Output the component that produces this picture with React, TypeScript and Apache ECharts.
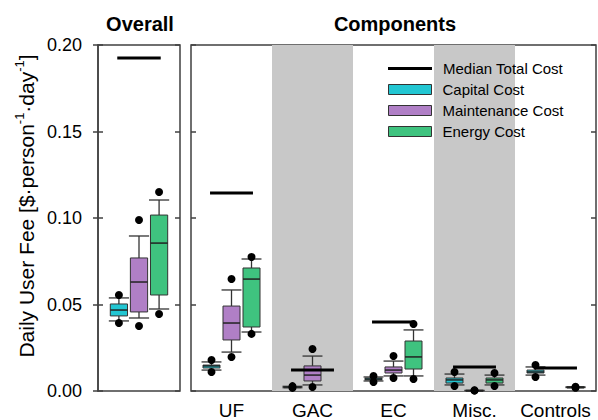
import React, { useEffect, useRef } from "react";
import * as echarts from "echarts";

const FONT = "'Liberation Sans', Arial, Helvetica, sans-serif";

// Categories
const overallCategories = ["Overall"];
const componentCategories = ["UF", "GAC", "EC", "Misc.", "Controls"];
const yTicks = [0, 0.05, 0.1, 0.15, 0.2];

// Each stat: [low dot, low whisker, Q1, median, Q3, high whisker, high dot]
const overallCapital = [[0.0393, 0.0405, 0.0434, 0.0468, 0.0503, 0.0538, 0.0555]];
const overallMaintenance = [[0.0376, 0.0422, 0.0457, 0.063, 0.0769, 0.0896, 0.0988]];
const overallEnergy = [[0.0445, 0.0474, 0.0555, 0.0855, 0.1017, 0.1104, 0.115]];
const overallMedianTotal = [0.1925];

const componentCapital = [
  [0.011, 0.0121, 0.0133, 0.0145, 0.015, 0.0168, 0.0179],
  [0.0018, 0.0019, 0.0021, 0.0023, 0.0025, 0.0027, 0.0028],
  [0.0052, 0.0058, 0.0064, 0.0069, 0.0075, 0.0081, 0.0087],
  [0.0029, 0.0035, 0.0046, 0.0064, 0.0075, 0.0098, 0.011],
  [0.0081, 0.0092, 0.0104, 0.011, 0.0121, 0.0139, 0.015],
];
const componentMaintenance = [
  [0.0197, 0.0225, 0.0295, 0.0393, 0.0491, 0.0584, 0.0647],
  [0.0023, 0.0035, 0.0058, 0.0092, 0.0145, 0.0202, 0.0243],
  [0.0075, 0.0087, 0.0104, 0.0121, 0.0139, 0.0173, 0.0202],
  [0.0002, 0.0002, 0.0003, 0.0003, 0.0003, 0.0004, 0.0004],
  null,
];
const componentEnergy = [
  [0.033, 0.0341, 0.037, 0.0647, 0.0711, 0.0763, 0.0775],
  null,
  [0.0069, 0.0087, 0.0127, 0.0197, 0.0289, 0.0353, 0.0387],
  [0.0029, 0.0035, 0.0046, 0.0064, 0.0075, 0.0092, 0.0104],
  [0.0019, 0.002, 0.0021, 0.0022, 0.0023, 0.0024, 0.0025],
];
const componentMedianTotal = [0.1145, 0.0121, 0.0399, 0.0139, 0.0133];

const COLORS = {
  capital: "#22c6d2",
  maintenance: "#b07fc6",
  energy: "#3fc37f",
  band: "#c8c8c8",
  edge: "#333333",
  frame: "#404040",
};

function toData(stats: (number[] | null)[]) {
  const out: number[][] = [];
  stats.forEach((s, i) => {
    if (s) out.push([i, ...s]);
  });
  return out;
}

function boxRenderer(offsetFrac: number, fill: string) {
  return (params: any, api: any) => {
    const cat = api.value(0);
    const v = [1, 2, 3, 4, 5, 6, 7].map((i) => api.value(i));
    const band = api.size([1, 0])[0];
    const cx = api.coord([cat, 0])[0] + offsetFrac * band;
    const y = (val: number) => api.coord([cat, val])[1];
    const half = band * 0.105;
    const capHalf = band * 0.123;
    const line = { stroke: COLORS.edge, lineWidth: 1.3 };
    const children: any[] = [
      { type: "line", shape: { x1: cx, y1: y(v[1]), x2: cx, y2: y(v[2]) }, style: line },
      { type: "line", shape: { x1: cx, y1: y(v[4]), x2: cx, y2: y(v[5]) }, style: line },
      { type: "line", shape: { x1: cx - capHalf, y1: y(v[1]), x2: cx + capHalf, y2: y(v[1]) }, style: line },
      { type: "line", shape: { x1: cx - capHalf, y1: y(v[5]), x2: cx + capHalf, y2: y(v[5]) }, style: line },
      {
        type: "rect",
        shape: { x: cx - half, y: y(v[4]), width: half * 2, height: Math.max(y(v[2]) - y(v[4]), 1) },
        style: { fill, stroke: COLORS.edge, lineWidth: 1 },
      },
      { type: "line", shape: { x1: cx - half, y1: y(v[3]), x2: cx + half, y2: y(v[3]) }, style: { stroke: "#222", lineWidth: 1.5 } },
      { type: "circle", shape: { cx, cy: y(v[0]), r: 4 }, style: { fill: "#000" } },
      { type: "circle", shape: { cx, cy: y(v[6]), r: 4 }, style: { fill: "#000" } },
    ];
    return { type: "group", children };
  };
}

function medianRenderer(params: any, api: any) {
  const cat = api.value(0);
  const band = api.size([1, 0])[0];
  const c = api.coord([cat, api.value(1)]);
  return {
    type: "line",
    shape: { x1: c[0] - band * 0.265, y1: c[1], x2: c[0] + band * 0.265, y2: c[1] },
    style: { stroke: "#000", lineWidth: 3 },
  };
}

function boxSeries(name: string, stats: (number[] | null)[], offset: number, color: string, gi: number) {
  return {
    type: "custom",
    name,
    xAxisIndex: gi === 0 ? 0 : 1,
    yAxisIndex: gi === 0 ? 0 : 3,
    data: toData(stats),
    encode: { x: 0, y: [1, 2, 3, 4, 5, 6, 7] },
    itemStyle: { color, borderColor: COLORS.edge, borderWidth: 1 },
    renderItem: boxRenderer(offset, color),
    z: 3,
    silent: true,
  };
}

function medianSeries(values: number[], gi: number) {
  return {
    type: "custom",
    name: "Median Total Cost",
    xAxisIndex: gi === 0 ? 0 : 1,
    yAxisIndex: gi === 0 ? 0 : 3,
    data: values.map((v, i) => [i, v]),
    encode: { x: 0, y: 1 },
    itemStyle: { color: "#000" },
    renderItem: medianRenderer,
    z: 4,
    silent: true,
  };
}

function tickAxis(gridIndex: number, position: string) {
  return {
    type: "value",
    gridIndex,
    position,
    min: yTicks[0],
    max: yTicks[yTicks.length - 1],
    interval: 0.05,
    axisLine: { show: false },
    axisTick: { show: true, inside: true, length: 5, lineStyle: { color: COLORS.frame, width: 1.5 } },
    axisLabel: { show: false },
    splitLine: { show: false },
  };
}

export default function App() {
  const ref = useRef<HTMLDivElement>(null);
  useEffect(() => {
    if (!ref.current) return;
    const chart = echarts.init(ref.current, undefined, { renderer: "svg" });
    const option: any = {
      animation: false,
      backgroundColor: "#fff",
      textStyle: { fontFamily: FONT },
      title: [
        {
          text: "Overall",
          left: 140,
          top: 14,
          textAlign: "center",
          padding: 0,
          textStyle: { fontSize: 20, fontWeight: "bold", color: "#000", fontFamily: FONT },
        },
        {
          text: "Components",
          left: 395,
          top: 14,
          textAlign: "center",
          padding: 0,
          textStyle: { fontSize: 20, fontWeight: "bold", color: "#000", fontFamily: FONT },
        },
      ],
      grid: [
        { left: 98, top: 45, width: 82, height: 346, show: true, borderColor: COLORS.frame, borderWidth: 1.5, backgroundColor: "transparent" },
        { left: 191, top: 45, width: 405, height: 346, show: true, borderColor: COLORS.frame, borderWidth: 1.5, backgroundColor: "transparent" },
      ],
      xAxis: [
        {
          type: "category",
          gridIndex: 0,
          data: overallCategories,
          axisLine: { show: false },
          axisTick: { show: false },
          axisLabel: { show: false },
        },
        {
          type: "category",
          gridIndex: 1,
          data: componentCategories,
          axisLine: { show: false },
          axisTick: { show: false },
          axisLabel: { interval: 0, fontSize: 19, color: "#000", margin: 10, fontFamily: FONT },
          splitArea: { show: true, interval: 0, areaStyle: { color: ["rgba(0,0,0,0)", COLORS.band] } },
        },
      ],
      yAxis: [
        {
          type: "value",
          gridIndex: 0,
          position: "left",
          min: yTicks[0],
          max: yTicks[yTicks.length - 1],
          interval: 0.05,
          axisLine: { show: true, lineStyle: { color: COLORS.frame, width: 1.5 } },
          axisTick: { show: true, length: 5, lineStyle: { color: COLORS.frame, width: 1.5 } },
          axisLabel: { fontSize: 18, color: "#000", margin: 16, fontFamily: FONT, formatter: (v: number) => v.toFixed(2) },
          splitLine: { show: false },
        },
        tickAxis(0, "left"),
        tickAxis(0, "right"),
        tickAxis(1, "left"),
        tickAxis(1, "right"),
      ],
      legend: [
        {
          data: ["Median Total Cost"],
          orient: "vertical",
          left: 383,
          top: 53,
          itemWidth: 44,
          itemHeight: 3,
          itemGap: 0,
          icon: "rect",
          selectedMode: false,
          textStyle: { fontSize: 15, color: "#000", lineHeight: 21, padding: [0, 0, 0, 6], fontFamily: FONT },
          itemStyle: { color: "#000", borderWidth: 0 },
        },
        {
          data: [
            { name: "Capital Cost", itemStyle: { color: COLORS.capital, borderColor: COLORS.edge, borderWidth: 1 } },
            { name: "Maintenance Cost", itemStyle: { color: COLORS.maintenance, borderColor: COLORS.edge, borderWidth: 1 } },
            { name: "Energy Cost", itemStyle: { color: COLORS.energy, borderColor: COLORS.edge, borderWidth: 1 } },
          ],
          orient: "vertical",
          left: 383,
          top: 74,
          itemWidth: 43,
          itemHeight: 10,
          itemGap: 0,
          icon: "rect",
          selectedMode: false,
          textStyle: { fontSize: 15, color: "#000", lineHeight: 21, padding: [0, 0, 0, 6], fontFamily: FONT },
        },
      ],
      graphic: [
        {
          type: "text",
          x: 26,
          y: 206,
          rotation: Math.PI / 2,
          style: {
            text: "{a|Daily User Fee [$·person}{s|-1}{a|·day}{s|-1}{a|]}",
            align: "center",
            verticalAlign: "middle",
            fill: "#000",
            rich: {
              a: { fontSize: 21, fontFamily: FONT, fill: "#000", lineHeight: 26 },
              s: { fontSize: 13, fontFamily: FONT, fill: "#000", verticalAlign: "top", lineHeight: 15 },
            },
          },
        },
      ],
      series: [
        boxSeries("Capital Cost", overallCapital, -0.245, COLORS.capital, 0),
        boxSeries("Maintenance Cost", overallMaintenance, 0, COLORS.maintenance, 0),
        boxSeries("Energy Cost", overallEnergy, 0.245, COLORS.energy, 0),
        medianSeries(overallMedianTotal, 0),
        boxSeries("Capital Cost", componentCapital, -0.247, COLORS.capital, 1),
        boxSeries("Maintenance Cost", componentMaintenance, 0, COLORS.maintenance, 1),
        boxSeries("Energy Cost", componentEnergy, 0.247, COLORS.energy, 1),
        medianSeries(componentMedianTotal, 1),
      ],
    };
    chart.setOption(option);
    return () => chart.dispose();
  }, []);
  return <div ref={ref} style={{ position: "absolute", left: 0, top: 0, width: 598, height: 420 }} />;
}
